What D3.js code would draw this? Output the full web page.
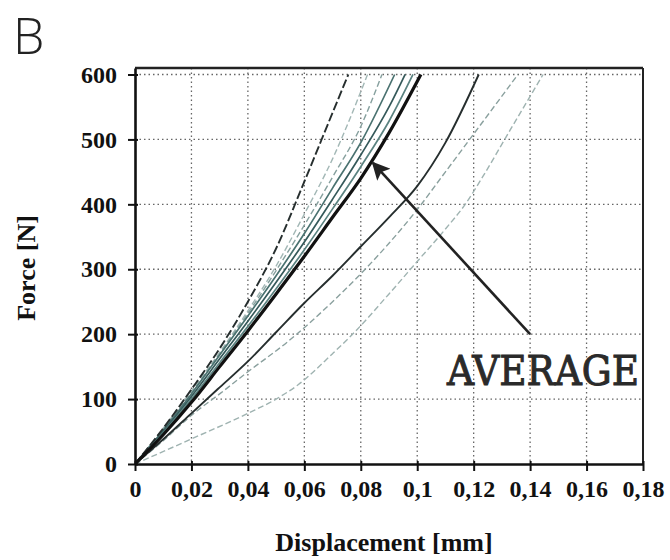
<!DOCTYPE html>
<html>
<head>
<meta charset="utf-8">
<script src="https://cdn.jsdelivr.net/npm/d3@7"></script>
<style>
  body { margin: 0; background: #fff; }
  svg text { font-family: "Liberation Serif", serif; }
</style>
</head>
<body>
<div id="chart"></div>
<script>
// axis ticks and labels
var xTicks = [0, 0.02, 0.04, 0.06, 0.08, 0.1, 0.12, 0.14, 0.16, 0.18];
var xTickLabels = ["0", "0,02", "0,04", "0,06", "0,08", "0,1", "0,12", "0,14", "0,16", "0,18"];
var yTicks = [0, 100, 200, 300, 400, 500, 600];
var yTickLabels = ["0", "100", "200", "300", "400", "500", "600"];

// force-displacement curves, [displacement mm, force N]
var curveD1 = [[0, 0], [0.01, 55], [0.02, 115], [0.03, 178], [0.04, 250], [0.05, 332], [0.06, 435], [0.07, 541], [0.0756, 600]];
var curveB5 = [[0, 0], [0.01, 55], [0.02, 113], [0.03, 172], [0.04, 236], [0.05, 305], [0.06, 385], [0.07, 470], [0.0824, 600]];
var curveB4 = [[0, 0], [0.01, 53], [0.02, 110], [0.03, 170], [0.04, 232], [0.05, 298], [0.06, 368], [0.07, 442], [0.08, 520], [0.0875, 600]];
var curveB1 = [[0, 0], [0.01, 52], [0.02, 108], [0.03, 168], [0.04, 228], [0.05, 290], [0.06, 355], [0.07, 425], [0.08, 495], [0.092, 600]];
var curveB2 = [[0, 0], [0.01, 50], [0.02, 104], [0.03, 162], [0.04, 220], [0.05, 280], [0.06, 342], [0.07, 408], [0.08, 476], [0.09, 550], [0.0957, 600]];
var curveB3 = [[0, 0], [0.01, 48], [0.02, 100], [0.03, 156], [0.04, 212], [0.05, 270], [0.06, 330], [0.07, 393], [0.08, 458], [0.09, 528], [0.0985, 600]];
var curveAvg = [[0, 0], [0.01, 45], [0.02, 95], [0.03, 150], [0.04, 205], [0.05, 262], [0.06, 320], [0.07, 380], [0.08, 440], [0.09, 510], [0.1013, 600]];
var curveR1 = [[0, 0], [0.01, 38], [0.02, 78], [0.03, 118], [0.04, 158], [0.05, 203], [0.06, 248], [0.07, 290], [0.08, 335], [0.09, 380], [0.1, 428], [0.11, 495], [0.1218, 600]];
var curveR2 = [[0, 0], [0.01, 36], [0.02, 75], [0.03, 108], [0.04, 142], [0.054, 188], [0.07, 250], [0.08, 293], [0.09, 340], [0.1, 392], [0.11, 450], [0.1203, 510], [0.1357, 600]];
var curveR4 = [[0, 0], [0.0202, 39], [0.04, 78], [0.05, 100], [0.0578, 122], [0.07, 170], [0.0769, 199], [0.09, 262], [0.1, 312], [0.11, 362], [0.117, 400], [0.123, 441], [0.133, 515], [0.1446, 600]];

// annotation
var averageLabel = "AVERAGE";
var arrowPoints = [[0.14, 200], [0.0843, 464]];

var width = 670;
var height = 560;

var svg = d3.select("#chart").append("svg")
    .attr("width", width)
    .attr("height", height);

// scales
var xScale = d3.scaleLinear().domain([0, 0.18]).range([135, 643]);
var yScale = d3.scaleLinear().domain([0, 610]).range([464, 68]);

// panel letter
svg.append("text")
    .attr("x", 13)
    .attr("y", 54)
    .style("font-family", "'Open Sans', sans-serif")
    .style("font-weight", 300)
    .style("font-size", "50px")
    .attr("fill", "#222")
    .text("B");

// dotted grid
svg.append("g").selectAll("line")
    .data(xTicks.slice(1, -1))
    .enter().append("line")
    .attr("x1", function (d) { return xScale(d); })
    .attr("x2", function (d) { return xScale(d); })
    .attr("y1", yScale(610))
    .attr("y2", yScale(0))
    .attr("stroke", "#666")
    .attr("stroke-width", 1.3)
    .attr("stroke-dasharray", "1.5,3");

svg.append("g").selectAll("line")
    .data(yTicks.slice(1))
    .enter().append("line")
    .attr("x1", xScale(0))
    .attr("x2", xScale(0.18))
    .attr("y1", function (d) { return yScale(d); })
    .attr("y2", function (d) { return yScale(d); })
    .attr("stroke", "#666")
    .attr("stroke-width", 1.3)
    .attr("stroke-dasharray", "1.5,3");

// clip to the plot box
svg.append("clipPath").attr("id", "plotClip")
    .append("rect")
    .attr("x", xScale(0))
    .attr("y", yScale(610))
    .attr("width", xScale(0.18) - xScale(0))
    .attr("height", yScale(0) - yScale(610));

var lineGenerator = d3.line()
    .x(function (d) { return xScale(d[0]); })
    .y(function (d) { return yScale(d[1]); })
    .curve(d3.curveMonotoneX);

// drawing order: faint ones first, average last
var series = [
    { data: curveR4, color: "#9fb3b1", width: 1.4, dash: "6,3" },
    { data: curveR2, color: "#8aa09e", width: 1.4, dash: "6,3" },
    { data: curveB5, color: "#a2b7b5", width: 1.4, dash: "6,3" },
    { data: curveB4, color: "#86a09e", width: 1.4, dash: "6,3" },
    { data: curveB1, color: "#4a7270", width: 1.7, dash: null },
    { data: curveB2, color: "#35595a", width: 1.7, dash: null },
    { data: curveB3, color: "#5a8280", width: 1.7, dash: null },
    { data: curveR1, color: "#262e2e", width: 1.9, dash: null },
    { data: curveD1, color: "#262e2e", width: 1.9, dash: "9,3" },
    { data: curveAvg, color: "#111", width: 3.2, dash: null }
];

var curves = svg.append("g").attr("clip-path", "url(#plotClip)");

series.forEach(function (s) {
    curves.append("path")
        .datum(s.data)
        .attr("fill", "none")
        .attr("stroke", s.color)
        .attr("stroke-width", s.width)
        .attr("stroke-dasharray", s.dash)
        .attr("d", lineGenerator);
});

// frame top and right
svg.append("line")
    .attr("x1", xScale(0)).attr("x2", xScale(0.18))
    .attr("y1", yScale(610)).attr("y2", yScale(610))
    .attr("stroke", "#222").attr("stroke-width", 2.5);
svg.append("line")
    .attr("x1", xScale(0.18)).attr("x2", xScale(0.18))
    .attr("y1", yScale(610)).attr("y2", yScale(0))
    .attr("stroke", "#222").attr("stroke-width", 2);

// axes
var xAxis = svg.append("g")
    .attr("transform", "translate(0," + yScale(0) + ")")
    .call(d3.axisBottom(xScale)
        .tickValues(xTicks)
        .tickFormat(function (d, i) { return xTickLabels[i]; })
        .tickSize(7)
        .tickSizeOuter(0)
        .tickPadding(9));

var yAxis = svg.append("g")
    .attr("transform", "translate(" + xScale(0) + ",0)")
    .call(d3.axisLeft(yScale)
        .tickValues(yTicks)
        .tickFormat(function (d, i) { return yTickLabels[i]; })
        .tickSize(7)
        .tickSizeOuter(0)
        .tickPadding(11));

[xAxis, yAxis].forEach(function (ax) {
    ax.select(".domain").attr("stroke", "#111").attr("stroke-width", 2.6);
    ax.selectAll(".tick line").attr("stroke", "#111").attr("stroke-width", 2);
    ax.selectAll(".tick text")
        .attr("fill", "#111")
        .style("font-family", "'Liberation Serif', serif")
        .style("font-weight", "bold")
        .style("font-size", "24px");
});
xAxis.selectAll(".tick line").attr("y1", -3);
yAxis.selectAll(".tick line").attr("x1", 3);

// axis titles
svg.append("text")
    .attr("x", 384)
    .attr("y", 551)
    .attr("text-anchor", "middle")
    .attr("fill", "#111")
    .style("font-weight", "bold")
    .style("font-size", "26px")
    .text("Displacement [mm]");

svg.append("text")
    .attr("transform", "translate(35,268) rotate(-90)")
    .attr("text-anchor", "middle")
    .attr("fill", "#111")
    .style("font-weight", "bold")
    .style("font-size", "26px")
    .text("Force [N]");

// arrow to the average curve
svg.append("defs").append("marker")
    .attr("id", "arrowHead")
    .attr("viewBox", "0 0 10 10")
    .attr("refX", 9)
    .attr("refY", 5)
    .attr("markerWidth", 22)
    .attr("markerHeight", 18)
    .attr("markerUnits", "userSpaceOnUse")
    .attr("orient", "auto")
    .append("path")
    .attr("d", "M0,0 L10,5 L0,10 L2,5 Z")
    .attr("fill", "#222");

svg.append("path")
    .datum(arrowPoints)
    .attr("fill", "none")
    .attr("stroke", "#222")
    .attr("stroke-width", 2.6)
    .attr("marker-end", "url(#arrowHead)")
    .attr("d", d3.line()
        .x(function (d) { return xScale(d[0]); })
        .y(function (d) { return yScale(d[1]); }));

svg.append("text")
    .attr("x", 447)
    .attr("y", 385)
    .attr("textLength", 192)
    .attr("lengthAdjust", "spacingAndGlyphs")
    .attr("fill", "#2a2a2a")
    .attr("stroke", "#2a2a2a")
    .attr("stroke-width", 1)
    .style("font-family", "'DejaVu Serif', serif")
    .style("font-size", "41px")
    .text(averageLabel);
</script>
</body>
</html>
